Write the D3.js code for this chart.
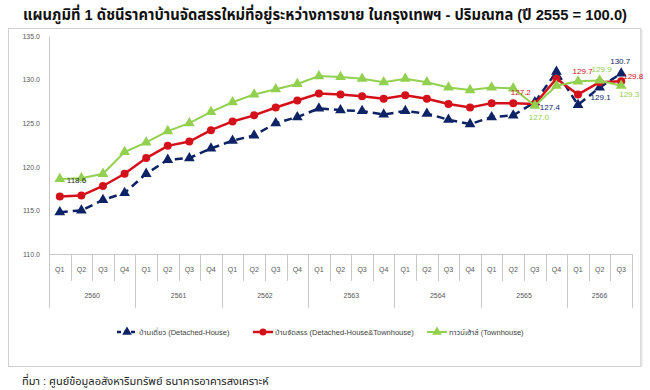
<!DOCTYPE html>
<html lang="th">
<head>
    <meta charset="UTF-8">
    <title>ดัชนีราคาบ้านจัดสรรใหม่</title>
    <script src="https://d3js.org/d3.v7.min.js"></script>
    <style>
        body {
            margin: 0;
            background: #fff;
        }
        text {
            font-family: "Liberation Sans", "Noto Sans Thai", "DejaVu Sans", sans-serif;
        }
        .title {
            font-size: 15px;
            font-weight: bold;
            fill: #111;
        }
        .tick text, .xlab {
            font-size: 7px;
            fill: #595959;
        }
        .dlabel {
            font-size: 8px;
        }
        .legend text {
            font-size: 7.5px;
            fill: #404040;
        }
        .source {
            font-size: 11px;
            fill: #222;
        }
    </style>
</head>
<body>
<script>
    var width = 650;
    var height = 390;

    // category axis: Thai Buddhist-era years, quarters per year
    var years = ["2560", "2561", "2562", "2563", "2564", "2565", "2566"];
    var quartersPerYear = [4, 4, 4, 4, 4, 4, 3];
    var quarterNames = ["Q1", "Q2", "Q3", "Q4"];
    var yTicks = [110, 115, 120, 125, 130, 135];

    // index values, Q1 2560 .. Q3 2566
    var detached = [114.8, 115.0, 116.2, 117.0, 119.2, 120.8, 121.0, 122.1,
        123.0, 123.6, 125.0, 125.7, 126.7, 126.5, 126.4, 126.0,
        126.4, 126.1, 125.4, 124.9, 125.7, 125.9, 127.4, 130.9,
        127.1, 129.1, 130.7];
    var allHouses = [116.6, 116.7, 117.8, 119.2, 121.0, 122.4, 122.9, 124.2,
        125.2, 125.9, 126.8, 127.6, 128.4, 128.3, 128.1, 127.8,
        128.2, 127.8, 127.2, 126.8, 127.3, 127.3, 127.2, 130.1,
        128.3, 129.7, 129.8];
    var townhouse = [118.6, 118.7, 119.2, 121.7, 122.8, 124.1, 125.0, 126.3,
        127.4, 128.3, 128.9, 129.5, 130.4, 130.3, 130.1, 129.7,
        130.1, 129.7, 129.1, 128.8, 129.1, 129.0, 127.0, 129.3,
        129.8, 129.9, 129.3];

    var seriesNames = ["บ้านเดี่ยว (Detached-House)",
        "บ้านจัดสรร (Detached-House&Townhouse)",
        "ทาวน์เฮ้าส์ (Townhouse)"];

    // which points get a value label
    var labelled = [
        {s: 2, i: 0, dx: 7, dy: 4, anchor: "start", color: "#333"},
        {s: 1, i: 22, dx: -4, dy: -9, anchor: "end"},
        {s: 0, i: 22, dx: 5, dy: 8, anchor: "start"},
        {s: 2, i: 22, dx: -6, dy: 14, anchor: "start"},
        {s: 1, i: 25, dx: -7, dy: -8, anchor: "end"},
        {s: 2, i: 25, dx: 2, dy: -8, anchor: "middle"},
        {s: 0, i: 25, dx: 1, dy: 13, anchor: "middle"},
        {s: 0, i: 26, dx: -1, dy: -9, anchor: "middle"},
        {s: 1, i: 26, dx: 2, dy: -2, anchor: "start"},
        {s: 2, i: 26, dx: -2, dy: 11, anchor: "start"}
    ];

    var periods = [];
    years.forEach(function (y, k) {
        for (var q = 0; q < quartersPerYear[k]; q++) {
            periods.push({id: y + "-" + quarterNames[q], year: y, q: quarterNames[q]});
        }
    });

    var series = [
        {values: detached, color: "#0d2366", dash: "8,5", marker: "tri", width: 2.5},
        {values: allHouses, color: "#d4101b", dash: null, marker: "circle", width: 2.5},
        {values: townhouse, color: "#92d050", dash: null, marker: "tri", width: 2}
    ];

    var x = d3.scaleBand()
        .domain(periods.map(function (d) { return d.id; }))
        .range([49, 632]);
    var y = d3.scaleLinear()
        .domain([110, 135])
        .range([254, 36]);

    var svg = d3.select("body").append("svg")
        .attr("width", width)
        .attr("height", height);

    svg.append("text").attr("class", "title")
        .attr("x", 325).attr("y", 20)
        .attr("text-anchor", "middle")
        .attr("textLength", 604)
        .attr("lengthAdjust", "spacingAndGlyphs")
        .text("แผนภูมิที่ 1 ดัชนีราคาบ้านจัดสรรใหม่ที่อยู่ระหว่างการขาย ในกรุงเทพฯ - ปริมณฑล (ปี 2555 = 100.0)");

    svg.append("rect")
        .attr("x", 8.5).attr("y", 28.5)
        .attr("width", 632).attr("height", 338)
        .attr("fill", "none")
        .attr("stroke", "#d0d0d0");
    svg.append("line")
        .attr("x1", 641.5).attr("x2", 641.5)
        .attr("y1", 29).attr("y2", 367)
        .attr("stroke", "#e4e4e4").attr("stroke-width", 2);

    // y axis
    var yAxis = svg.append("g")
        .attr("transform", "translate(49,0)")
        .call(d3.axisLeft(y).tickValues(yTicks).tickFormat(d3.format(".1f"))
            .tickSize(0).tickPadding(9));
    yAxis.select(".domain").attr("stroke", "#c8c8c8");

    // x axis (multi level categories)
    var xg = svg.append("g");
    xg.append("line")
        .attr("x1", 49).attr("x2", 632)
        .attr("y1", 254.5).attr("y2", 254.5)
        .attr("stroke", "#c8c8c8");

    xg.selectAll(".sep")
        .data(periods)
        .enter()
        .append("line")
        .attr("x1", function (d) { return Math.round(x(d.id)) + 0.5; })
        .attr("x2", function (d) { return Math.round(x(d.id)) + 0.5; })
        .attr("y1", 254)
        .attr("y2", function (d) { return d.q === "Q1" ? 308 : 281; })
        .attr("stroke", "#c8c8c8");
    xg.append("line")
        .attr("x1", 632.5).attr("x2", 632.5)
        .attr("y1", 254).attr("y2", 308)
        .attr("stroke", "#c8c8c8");

    xg.selectAll(".qlab")
        .data(periods)
        .enter()
        .append("text").attr("class", "xlab")
        .attr("x", function (d) { return x(d.id) + x.bandwidth() / 2; })
        .attr("y", 272)
        .attr("text-anchor", "middle")
        .text(function (d) { return d.q; });

    xg.selectAll(".ylab")
        .data(years)
        .enter()
        .append("text").attr("class", "xlab")
        .attr("x", function (yr) {
            var ps = periods.filter(function (p) { return p.year === yr; });
            return (x(ps[0].id) + x(ps[ps.length - 1].id) + x.bandwidth()) / 2;
        })
        .attr("y", 298)
        .attr("text-anchor", "middle")
        .text(function (d) { return d; });

    var line = d3.line()
        .x(function (d, i) { return x(periods[i].id) + x.bandwidth() / 2; })
        .y(function (d) { return y(d); });

    var tri = d3.symbol().type(d3.symbolTriangle);

    function drawMarker(g, s, size) {
        if (s.marker === "circle") {
            g.append("circle").attr("r", size === "legend" ? 3.5 : 4)
                .attr("fill", s.color);
        } else {
            g.append("path").attr("d", tri.size(size === "legend" ? 40 : 50)())
                .attr("fill", s.color);
        }
    }

    series.forEach(function (s) {
        var g = svg.append("g");
        g.append("path")
            .datum(s.values)
            .attr("d", line)
            .attr("fill", "none")
            .attr("stroke", s.color)
            .attr("stroke-width", s.width)
            .attr("stroke-dasharray", s.dash);
        g.selectAll(".pt")
            .data(s.values)
            .enter()
            .append("g")
            .attr("transform", function (d, i) {
                return "translate(" + (x(periods[i].id) + x.bandwidth() / 2) + "," + y(d) + ")";
            })
            .each(function () { drawMarker(d3.select(this), s, "point"); });
    });

    svg.selectAll(".dlabel")
        .data(labelled)
        .enter()
        .append("text").attr("class", "dlabel")
        .attr("x", function (d) { return x(periods[d.i].id) + x.bandwidth() / 2 + d.dx; })
        .attr("y", function (d) { return y(series[d.s].values[d.i]) + d.dy; })
        .attr("text-anchor", function (d) { return d.anchor; })
        .attr("fill", function (d) { return d.color || series[d.s].color; })
        .text(function (d) { return d3.format(".1f")(series[d.s].values[d.i]); });

    // legend
    var legendX = [117, 253, 427];
    var legend = svg.append("g").attr("class", "legend");
    series.forEach(function (s, k) {
        var g = legend.append("g").attr("transform", "translate(" + legendX[k] + ",332)");
        g.append("line")
            .attr("x1", 0).attr("x2", 20)
            .attr("stroke", s.color)
            .attr("stroke-width", s.width)
            .attr("stroke-dasharray", s.dash ? "4,3" : null);
        var m = g.append("g").attr("transform", "translate(10,0)");
        drawMarker(m, s, "legend");
        g.append("text")
            .attr("x", 22).attr("y", 3)
            .text(seriesNames[k]);
    });

    svg.append("text").attr("class", "source")
        .attr("x", 22).attr("y", 385)
        .text("ที่มา : ศูนย์ข้อมูลอสังหาริมทรัพย์ ธนาคารอาคารสงเคราะห์");
</script>
</body>
</html>
